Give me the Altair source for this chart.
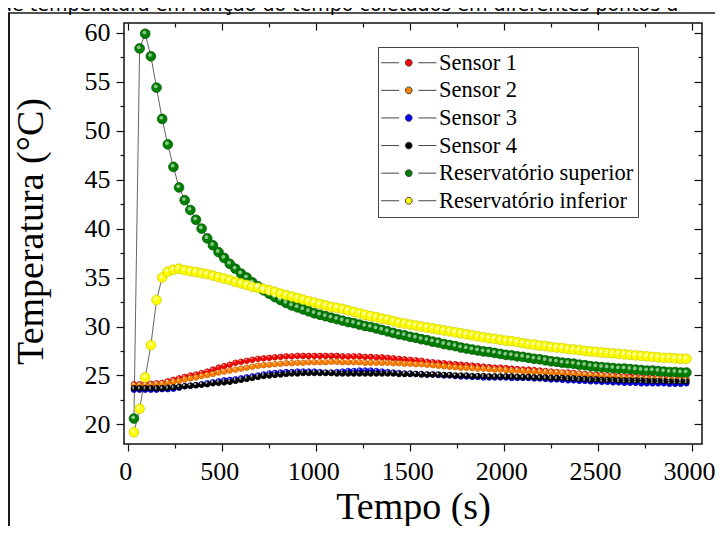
import altair as alt
import pandas as pd

# ---------------- data ----------------
TIME_S = list(range(30, 2971, 30))  # one reading every 30 s

SERIES = ["Sensor 1", "Sensor 2", "Sensor 3", "Sensor 4",
          "Reservatório superior", "Reservatório inferior"]
KIND = ["sensor", "sensor", "sensor", "sensor", "reservatorio", "reservatorio"]
COLORS = ["#ff0000", "#ff8000", "#0000ff", "#000000", "#008000", "#ffff00"]
EDGES = ["#b80000", "#c65f00", "#0000a0", "#000000", "#004f00", "#c9c900"]
KINDS = ["sensor", "reservatorio"]
KIND_SIZES = [32, 95]
HIGHLIGHT_SIZES = [4, 14]

SENSOR_1 = [
    24.1, 24.1, 24.1, 24.15, 24.2, 24.25, 24.4, 24.55, 24.7, 24.85,
    25.0, 25.1, 25.25, 25.4, 25.6, 25.8, 25.95, 26.1, 26.3, 26.4,
    26.5, 26.6, 26.7, 26.75, 26.8, 26.85, 26.9, 26.95, 26.95, 27.0,
    27.0, 27.0, 27.0, 27.0, 27.0, 27.0, 27.0, 26.95, 26.95, 26.95,
    26.95, 26.9, 26.9, 26.85, 26.85, 26.8, 26.75, 26.7, 26.65, 26.6,
    26.55, 26.5, 26.4, 26.35, 26.3, 26.25, 26.2, 26.15, 26.1, 26.05,
    26.0, 25.95, 25.9, 25.85, 25.8, 25.8, 25.75, 25.7, 25.65, 25.6,
    25.6, 25.55, 25.5, 25.45, 25.4, 25.35, 25.3, 25.3, 25.25, 25.2,
    25.15, 25.1, 25.1, 25.05, 25.0, 25.0, 24.95, 24.9, 24.9, 24.85,
    24.8, 24.8, 24.75, 24.7, 24.7, 24.65, 24.65, 24.6, 24.6,
]
SENSOR_2 = [
    24.0, 24.0, 24.0, 24.05, 24.1, 24.15, 24.25, 24.35, 24.45, 24.6,
    24.7, 24.8, 24.95, 25.05, 25.15, 25.3, 25.4, 25.5, 25.6, 25.7,
    25.8, 25.9, 26.0, 26.05, 26.1, 26.15, 26.2, 26.25, 26.25, 26.3,
    26.3, 26.35, 26.35, 26.35, 26.35, 26.4, 26.4, 26.35, 26.35, 26.35,
    26.35, 26.3, 26.3, 26.3, 26.3, 26.3, 26.25, 26.25, 26.2, 26.2,
    26.15, 26.15, 26.1, 26.05, 26.0, 25.95, 25.9, 25.85, 25.8, 25.8,
    25.75, 25.7, 25.7, 25.65, 25.6, 25.6, 25.55, 25.5, 25.5, 25.45,
    25.4, 25.4, 25.35, 25.35, 25.3, 25.3, 25.25, 25.2, 25.15, 25.15,
    25.1, 25.05, 25.0, 25.0, 24.95, 24.9, 24.85, 24.8, 24.75, 24.75,
    24.7, 24.7, 24.65, 24.65, 24.6, 24.6, 24.6, 24.55, 24.55,
]
SENSOR_3 = [
    23.55, 23.55, 23.55, 23.55, 23.55, 23.6, 23.6, 23.65, 23.75, 23.9,
    23.95, 24.0, 24.1, 24.2, 24.3, 24.4, 24.5, 24.55, 24.6, 24.7,
    24.8, 24.9, 25.0, 25.1, 25.2, 25.25, 25.3, 25.35, 25.35, 25.4,
    25.4, 25.4, 25.4, 25.35, 25.3, 25.3, 25.35, 25.4, 25.45, 25.45,
    25.5, 25.5, 25.5, 25.45, 25.4, 25.35, 25.3, 25.25, 25.2, 25.2,
    25.15, 25.15, 25.1, 25.1, 25.05, 25.0, 25.0, 24.95, 24.9, 24.9,
    24.85, 24.85, 24.8, 24.8, 24.8, 24.8, 24.8, 24.75, 24.75, 24.75,
    24.75, 24.7, 24.7, 24.65, 24.6, 24.6, 24.55, 24.5, 24.5, 24.45,
    24.45, 24.4, 24.4, 24.35, 24.35, 24.3, 24.3, 24.25, 24.25, 24.25,
    24.2, 24.2, 24.2, 24.2, 24.2, 24.15, 24.15, 24.15, 24.2,
]
SENSOR_4 = [
    23.7, 23.7, 23.7, 23.7, 23.7, 23.7, 23.75, 23.8, 23.85, 23.9,
    23.95, 24.0, 24.05, 24.1, 24.2, 24.25, 24.3, 24.35, 24.45, 24.55,
    24.65, 24.75, 24.85, 24.95, 25.0, 25.05, 25.1, 25.15, 25.2, 25.2,
    25.25, 25.25, 25.25, 25.25, 25.25, 25.25, 25.2, 25.2, 25.2, 25.2,
    25.2, 25.2, 25.2, 25.2, 25.2, 25.2, 25.2, 25.15, 25.15, 25.15,
    25.15, 25.1, 25.1, 25.1, 25.1, 25.05, 25.05, 25.0, 25.0, 25.0,
    24.95, 24.95, 24.95, 24.9, 24.9, 24.9, 24.9, 24.9, 24.85, 24.85,
    24.85, 24.8, 24.8, 24.8, 24.75, 24.75, 24.75, 24.7, 24.7, 24.65,
    24.65, 24.6, 24.6, 24.55, 24.55, 24.55, 24.5, 24.5, 24.5, 24.5,
    24.5, 24.45, 24.45, 24.45, 24.45, 24.4, 24.4, 24.4, 24.4,
]
RES_SUPERIOR = [
    20.6, 58.4, 59.9, 57.6, 54.4, 51.2, 48.6, 46.3, 44.2, 42.9,
    41.9, 40.9, 40.0, 39.0, 38.3, 37.6, 37.0, 36.4, 35.9, 35.4,
    35.0, 34.5, 34.1, 33.7, 33.35, 33.0, 32.7, 32.4, 32.15, 31.95,
    31.75, 31.55, 31.35, 31.2, 31.05, 30.9, 30.75, 30.6, 30.45, 30.35,
    30.2, 30.05, 29.95, 29.8, 29.65, 29.5, 29.35, 29.2, 29.1, 28.95,
    28.85, 28.7, 28.6, 28.45, 28.35, 28.2, 28.1, 28.0, 27.85, 27.75,
    27.65, 27.55, 27.45, 27.4, 27.3, 27.2, 27.1, 27.05, 26.95, 26.9,
    26.8, 26.7, 26.65, 26.55, 26.45, 26.4, 26.3, 26.25, 26.2, 26.1,
    26.05, 25.95, 25.9, 25.85, 25.8, 25.75, 25.7, 25.7, 25.65, 25.6,
    25.55, 25.5, 25.5, 25.45, 25.4, 25.35, 25.35, 25.3, 25.3,
]
RES_INFERIOR = [
    19.2, 21.6, 24.8, 28.1, 32.7, 35.0, 35.6, 35.8, 35.9, 35.75,
    35.65, 35.55, 35.45, 35.35, 35.2, 35.05, 34.9, 34.75, 34.55, 34.4,
    34.25, 34.05, 33.95, 33.85, 33.7, 33.55, 33.35, 33.2, 33.05, 32.9,
    32.75, 32.6, 32.45, 32.3, 32.15, 32.0, 31.9, 31.8, 31.65, 31.5,
    31.35, 31.2, 31.05, 30.95, 30.8, 30.7, 30.55, 30.4, 30.3, 30.2,
    30.1, 30.0, 29.9, 29.8, 29.7, 29.6, 29.5, 29.4, 29.3, 29.2,
    29.1, 29.0, 28.9, 28.8, 28.75, 28.65, 28.55, 28.5, 28.4, 28.3,
    28.2, 28.15, 28.05, 28.0, 27.9, 27.85, 27.8, 27.7, 27.65, 27.6,
    27.5, 27.45, 27.4, 27.35, 27.3, 27.25, 27.2, 27.15, 27.1, 27.05,
    27.0, 26.95, 26.9, 26.85, 26.8, 26.8, 26.75, 26.7, 26.7,
]
VALUES = [SENSOR_1, SENSOR_2, SENSOR_3, SENSOR_4, RES_SUPERIOR, RES_INFERIOR]

X_MAJOR = [0, 500, 1000, 1500, 2000, 2500, 3000]
X_MINOR = [250, 750, 1250, 1750, 2250, 2750]
Y_MAJOR = [20, 25, 30, 35, 40, 45, 50, 55, 60]
Y_MINOR = [22.5, 27.5, 32.5, 37.5, 42.5, 47.5, 52.5, 57.5]

CAPTION = "de temperatura em função do tempo coletados em diferentes pontos d"

rows = []
for name, kind, edge, vals in zip(SERIES, KIND, EDGES, VALUES):
    for t, v in zip(TIME_S, vals):
        rows.append({"series": name, "kind": kind, "edge": edge, "t": t, "v": v})
df = pd.DataFrame(rows)

# ---------------- layout ----------------
W, H = 578, 421
SERIF = "Liberation Serif"
xs = alt.Scale(domain=[-23, 3053], nice=False, zero=False)
ys = alt.Scale(domain=[18, 61], nice=False, zero=False)


def ax(orient, values, size, offset=0, **kw):
    base = dict(orient=orient, values=values, tickSize=size, domain=False,
                grid=False, labels=False, title=None, offset=offset)
    base.update(kw)
    return alt.Axis(**base)


x_bottom = ax("bottom", X_MAJOR, 7, labels=True, labelFont=SERIF,
              labelFontSize=26, labelPadding=7, labelFlush=False,
              labelOverlap=False, format="d", labelOffset=-3,
              title="Tempo (s)", titleFont=SERIF, titleFontSize=38,
              titleFontWeight="normal", titleX=289, titleY=74,
              titleBaseline="alphabetic", titleAlign="center")
y_left = ax("left", Y_MAJOR, 8, labels=True, labelFont=SERIF,
            labelFontSize=26, labelPadding=6, labelFlush=False,
            labelOverlap=False, format="d",
            title="Temperatura (°C)", titleFont=SERIF, titleFontSize=38,
            titleFontWeight="normal", titleAngle=270, titleX=-82,
            titleY=208, titleBaseline="alphabetic", titleAlign="center")
x_bottom_minor = ax("bottom", X_MINOR, 4)
y_left_minor = ax("left", Y_MINOR, 4)
x_top = ax("top", X_MAJOR, 7, offset=-7)
x_top_minor = ax("top", X_MINOR, 4, offset=-4)
y_right = ax("right", Y_MAJOR, 8, offset=-8)
y_right_minor = ax("right", Y_MINOR, 4, offset=-4)

LEGEND_SYMBOL = ("M-6.9,0L-2.4,0M2.4,0L6.9,0"
                 "M-0.85,0A0.85,0.85,0,1,1,0.85,0A0.85,0.85,0,1,1,-0.85,0Z")

base = alt.Chart(df)

lines = base.mark_line(color="#3c3c3c", strokeWidth=0.8).encode(
    x=alt.X("t:Q", scale=xs, axis=x_bottom),
    y=alt.Y("v:Q", scale=ys, axis=y_left),
    detail="series:N",
)

points = base.mark_point(filled=True, opacity=1, strokeWidth=0.7).encode(
    x=alt.X("t:Q", scale=xs, axis=x_bottom_minor),
    y=alt.Y("v:Q", scale=ys, axis=y_left_minor),
    fill=alt.Fill(
        "series:N",
        scale=alt.Scale(domain=SERIES, range=COLORS),
        legend=alt.Legend(
            title=None, orient="none", legendX=254, legendY=24,
            direction="vertical", strokeColor="#444", fillColor="white",
            padding=4.5, rowPadding=4.6, cornerRadius=0,
            labelFont=SERIF, labelFontSize=22.5, labelColor="black",
            labelLimit=400, symbolType=LEGEND_SYMBOL, symbolSize=64,
            symbolOffset=15, labelOffset=19, symbolStrokeColor="#444",
            symbolStrokeWidth=1,
        ),
    ),
    stroke=alt.Stroke("edge:N", scale=None),
    size=alt.Size("kind:N",
                  scale=alt.Scale(domain=KINDS, range=KIND_SIZES),
                  legend=None),
)

highlight = base.mark_point(filled=True, fill="white", opacity=0.55,
                            strokeWidth=0, xOffset=-0.8,
                            yOffset=-1.2).encode(
    x=alt.X("t:Q", scale=xs, axis=None),
    y=alt.Y("v:Q", scale=ys, axis=None),
    size=alt.Size("kind:N",
                  scale=alt.Scale(domain=KINDS, range=HIGHLIGHT_SIZES),
                  legend=None),
)

ticks_top = base.mark_point(opacity=0).encode(
    x=alt.X("t:Q", scale=xs, axis=x_top),
    y=alt.Y("v:Q", scale=ys, axis=y_right),
)
ticks_top_minor = base.mark_point(opacity=0).encode(
    x=alt.X("t:Q", scale=xs, axis=x_top_minor),
    y=alt.Y("v:Q", scale=ys, axis=y_right_minor),
)

deco = alt.Chart(pd.DataFrame({"k": [0]}))
hline = deco.mark_rule(color="#1a1a1a", strokeWidth=1.5).encode(
    x=alt.value(-116), x2=alt.value(600), y=alt.value(-10))
vline = deco.mark_rule(color="#1a1a1a", strokeWidth=2).encode(
    x=alt.value(-115), y=alt.value(-10), y2=alt.value(510))
caption = deco.mark_text(font="DejaVu Sans", fontSize=19, align="left",
                         baseline="alphabetic", color="black").encode(
    x=alt.value(-124), y=alt.value(-12), text=alt.value(CAPTION))

chart = alt.layer(
    hline, vline, caption, lines, points, highlight, ticks_top,
    ticks_top_minor
).resolve_axis(
    x="independent", y="independent"
).resolve_scale(
    size="independent"
).properties(
    width=W, height=H,
    autosize=alt.AutoSizeParams(type="none"),
    padding={"left": 116, "top": 15, "right": 13, "bottom": 82},
    background="white",
).configure_view(
    stroke="#111", strokeWidth=1.5
).configure_axis(
    tickColor="#111", tickWidth=1.2, labelColor="black", titleColor="black"
)

chart.save("out.html", embed_options={"renderer": "svg", "actions": False})
